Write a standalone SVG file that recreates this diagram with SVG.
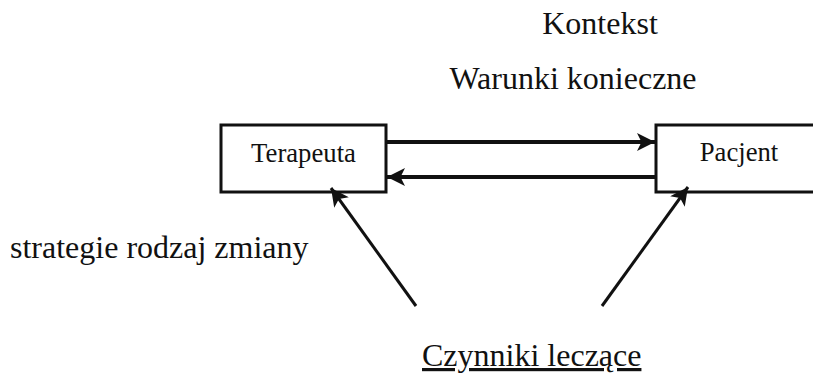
<svg xmlns="http://www.w3.org/2000/svg" width="813" height="375" viewBox="0 0 813 375">
<style>
text{fill:#111}
.big{font-size:32px}
.node{font-size:26.7px}
.box{fill:#fff;stroke:#111;stroke-width:3}
.thick{stroke:#111;stroke-width:4;fill:none}
.thin{stroke:#111;stroke-width:3;fill:none}
</style>
<defs>
<marker id="ah" viewBox="0 0 10 10" refX="10" refY="5" markerWidth="4.5" markerHeight="4.5" markerUnits="strokeWidth" orient="auto">
<path d="M0,0 L10,5 L0,10 L2.5,5 z" fill="#111"/>
</marker>
<marker id="ah2" viewBox="0 0 10 10" refX="10" refY="5" markerWidth="6" markerHeight="6" markerUnits="strokeWidth" orient="auto">
<path d="M0,0 L10,5 L0,10 L2.5,5 z" fill="#111"/>
</marker>
</defs>
<rect width="813" height="375" fill="#fff"/>
<g font-family="'Liberation Serif', 'Times New Roman', serif">
<text class="big" x="600" y="34" text-anchor="middle">Kontekst</text>
<text class="big" x="573" y="89" text-anchor="middle">Warunki konieczne</text>
<text class="big" x="10" y="258">strategie rodzaj zmiany</text>
<text class="big" x="422" y="366" text-decoration="underline">Czynniki leczące</text>
<g id="terapeuta">
<rect class="box" x="221" y="125" width="165" height="67"/>
<text class="node" x="303.5" y="162" text-anchor="middle">Terapeuta</text>
</g>
<g id="pacjent">
<rect class="box" x="656" y="125" width="200" height="67"/>
<text class="node" x="739" y="161" text-anchor="middle">Pacjent</text>
</g>
</g>
<g id="connectors">
<line class="thick" x1="386" y1="142" x2="655" y2="142" marker-end="url(#ah)"/>
<line class="thick" x1="656" y1="177" x2="387" y2="177" marker-end="url(#ah)"/>
<line class="thin" x1="416" y1="306" x2="331" y2="188" marker-end="url(#ah2)"/>
<line class="thin" x1="602" y1="306" x2="688" y2="187" marker-end="url(#ah2)"/>
</g>
</svg>
